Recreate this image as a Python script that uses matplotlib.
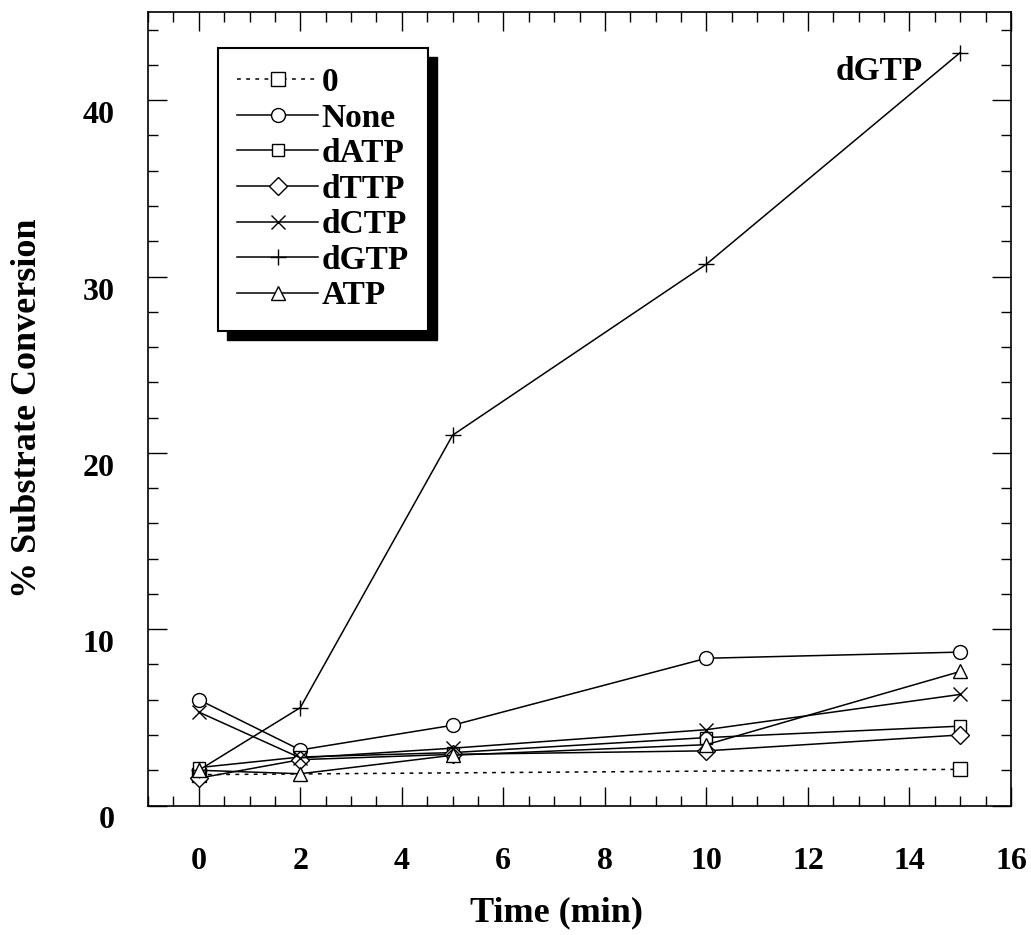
import matplotlib
matplotlib.use("Agg")
import matplotlib.pyplot as plt
from matplotlib.patches import Rectangle
from matplotlib.transforms import ScaledTranslation
from matplotlib.ticker import MultipleLocator

# Time points (min)
time = [0, 2, 5, 10, 15]

# % substrate conversion for each nucleotide condition
zero_time = [0, 15]
zero_vals = [1.75, 2.05]
none_vals = [6.0, 3.15, 4.55, 8.35, 8.7]
datp_vals = [2.15, 2.75, 3.0, 3.85, 4.5]
dttp_vals = [1.55, 2.6, 2.9, 3.1, 4.0]
dctp_vals = [5.3, 2.7, 3.25, 4.3, 6.3]
dgtp_vals = [2.0, 5.55, 21.0, 30.7, 42.7]
atp_vals = [2.0, 1.8, 2.85, 3.45, 7.6]

x_ticks = [0, 2, 4, 6, 8, 10, 12, 14, 16]
y_ticks = [0, 10, 20, 30, 40]

plt.rcParams['font.family'] = ['Liberation Serif', 'DejaVu Serif']
plt.rcParams['font.weight'] = 'bold'

fig = plt.figure(figsize=(10.31, 9.35), dpi=100)
ax = fig.add_axes([148 / 1031, 1 - 805.5 / 935, (1011 - 148) / 1031, (805.5 - 12) / 935])

mk = dict(markerfacecolor='white', markeredgecolor='black', markeredgewidth=1.0,
          color='black', linewidth=1.1, markersize=10)

ax.plot(zero_time, zero_vals, linestyle=(0, (2.5, 3.5)), marker='s',
        label='0', **{**mk, 'markersize': 10.5})
ax.plot(time, none_vals, marker='o', label='None', **mk)
ax.plot(time, datp_vals, marker='s', label='dATP', **{**mk, 'markersize': 9})
ax.plot(time, dttp_vals, marker='D', label='dTTP', **{**mk, 'markersize': 9})
ax.plot(time, dctp_vals, marker='x', label='dCTP', **mk)
ax.plot(time, dgtp_vals, marker='+', label='dGTP', **{**mk, 'markersize': 11})
ax.plot(time, atp_vals, marker='^', label='ATP', **{**mk, 'markersize': 10.5})

ax.text(13.4, 41.6, 'dGTP', fontsize=24, fontweight='bold', ha='center', va='center')

ax.set_xlim(-1, 16)
ax.set_ylim(0, 45)
ax.set_xticks(x_ticks)
ax.set_yticks(y_ticks)
ax.xaxis.set_minor_locator(MultipleLocator(0.5))
ax.yaxis.set_minor_locator(MultipleLocator(2))

ax.tick_params(which='both', direction='in', top=True, right=True, width=1.0, color='black')
ax.tick_params(which='major', length=14)
ax.tick_params(which='minor', length=7)
ax.tick_params(axis='y', which='major', labelsize=23, pad=24)
ax.tick_params(axis='x', which='major', labelsize=23, pad=30)
for s in ax.spines.values():
    s.set_linewidth(1.2)

# nudge the y tick labels slightly below their ticks
for tick in ax.yaxis.get_major_ticks():
    tick.label1.set_transform(tick.label1.get_transform() +
                              ScaledTranslation(0, -12 / 100, fig.dpi_scale_trans))

ax.set_xlabel('Time (min)', fontsize=26, fontweight='bold')
ax.xaxis.set_label_coords(0.473, -(913 - 805.5) / 793.5)
ax.xaxis.label.set_va('center')
ax.set_ylabel('% Substrate Conversion', fontsize=26, fontweight='bold', labelpad=28)

leg = ax.legend(loc='upper left', bbox_to_anchor=(0.081, 0.955), borderaxespad=0,
                fontsize=24, handlelength=2.43, handletextpad=0.1, labelspacing=0.136,
                borderpad=0.58, fancybox=False, framealpha=1, edgecolor='black')
leg.get_frame().set_linewidth(1.5)
leg.set_zorder(5)

# solid drop shadow behind the legend box
fig.canvas.draw()
bb = leg.get_window_extent()
inv = fig.transFigure.inverted()
(x0, y0), (x1, y1) = inv.transform([[bb.x0 + 9, bb.y0 - 9], [bb.x1 + 9, bb.y1 - 9]])
shadow = Rectangle((x0, y0), x1 - x0, y1 - y0, transform=fig.transFigure,
                   facecolor='black', edgecolor='black', zorder=4)
ax.add_artist(shadow)
shadow.set_clip_on(False)

fig.savefig('out.png', dpi=100)
